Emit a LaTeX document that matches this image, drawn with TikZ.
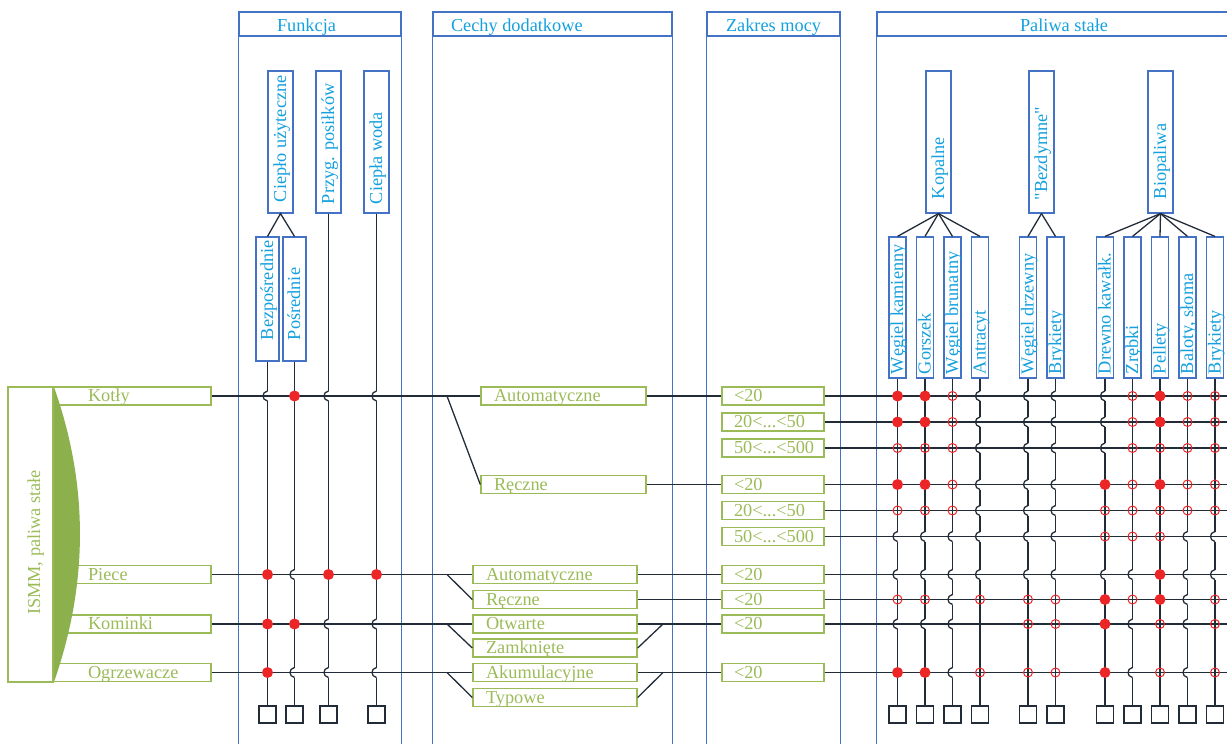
\documentclass[tikz,border=0pt]{standalone}
\usepackage{fontspec}
\setmainfont{Liberation Serif}
\usetikzlibrary{calc}

\definecolor{panelblue}{RGB}{68,114,196}
\definecolor{labelblue}{RGB}{20,160,222}
\definecolor{boxgreen}{RGB}{155,187,89}
\definecolor{lensgreen}{RGB}{140,176,76}
\definecolor{markred}{RGB}{236,38,38}
\definecolor{wiregray}{RGB}{34,44,56}

\newcommand{\lbl}[2]{\makebox[#1pt][l]{#2}}

\tikzset{
  every node/.style={font=\fontsize{18.3}{21}\selectfont, inner ysep=0pt,
    text height=12pt, text depth=1pt},
  wire/.style={draw=wiregray, line width=1.3pt},
  side/.style={draw=panelblue, line width=1.2pt},
  head/.style={side, text=labelblue, minimum height=24,
    text height=14pt, text depth=0pt},
  greenbox/.style={draw=boxgreen, line width=1.4pt, text=boxgreen, minimum height=18},
  catbox/.style={greenbox, minimum width=158, inner xsep=35},
  cechup/.style={greenbox, minimum width=165, inner xsep=13},
  cechlo/.style={greenbox, minimum width=164, inner xsep=13},
  mocbox/.style={greenbox, minimum width=102, inner xsep=12},
  vbox/.style={side, text=labelblue, rotate=90},
  vtop/.style={vbox, minimum width=142, minimum height=25},
  vmid/.style={vbox, minimum width=124, minimum height=23, inner xsep=21},
  vsub/.style={vbox, minimum width=141, minimum height=17, inner xsep=4},
  endbox/.style={draw=wiregray, line width=1.2pt, minimum size=17},
  hop/.pic={\fill[white] (-1.7,-5) rectangle (1.7,5);
    \draw[wire] (0,-5) .. controls (-6,-4) and (-6,4) .. (0,5);},
  full/.pic={\fill[markred] (0,0) circle[radius=5.5];},
  part/.pic={\draw[markred, line width=1pt] (0,0) circle[radius=4.5];}
}

\begin{document}
\begin{tikzpicture}[x=1pt,y=-1pt]
\useasboundingbox (0,0) rectangle (1227,744);
\coordinate (bot) at (0,750);
\coordinate (rend) at (1240,0);
\coordinate (jx) at (447,0);
\coordinate (mx) at (663,0);
\coordinate (sqrow) at (0,714.5);

% panels
\node[head, minimum width=162, inner xsep=38] (hfun) at (320,24) {\lbl{86}{Funkcja}};
\node[head, minimum width=239, inner xsep=18] (hcech) at (552.5,24) {\lbl{203}{Cechy dodatkowe}};
\node[head, minimum width=133, inner xsep=19] (hmoc) at (773.5,24) {\lbl{95}{Zakres mocy}};
\node[head, minimum width=374] (hpal) at (1064,24) {Paliwa stałe};
\foreach \h in {hfun,hcech,hmoc,hpal}
  \draw[side] (\h.south west) -- (\h.south west |- bot)
              (\h.south east) -- (\h.south east |- bot);

% ISMM
\node[catbox] (k1) at (132,396) {\lbl{88}{Kotły}};
\node[catbox] (k2) at (132,574.5) {\lbl{88}{Piece}};
\node[catbox] (k3) at (132,624) {\lbl{88}{Kominki}};
\node[catbox] (k4) at (132,672.5) {\lbl{88}{Ogrzewacze}};
\node[draw=boxgreen, line width=1.4pt, minimum width=45, minimum height=295] (ismm) at (30.5,534.5) {};
\fill[lensgreen] (ismm.north east) .. controls +(35,98) and +(35,-99) .. (ismm.south east) -- cycle;
\node[text=boxgreen, rotate=90] (ismmt) at (34.5,542.5) {ISMM, paliwa stałe};

% Funkcja
\node[vtop, inner xsep=11] (fu) at (280.5,142) {\lbl{120}{Ciepło użyteczne}};
\node[vmid] (fc1) at (267.5,299) {\lbl{82}{Bezpośrednie}};
\node[vmid] (fc2) at (294.5,299) {\lbl{82}{Pośrednie}};
\node[vtop, inner xsep=9] (fc3) at (328.5,142) {\lbl{124}{Przyg. posiłków}};
\node[vtop, inner xsep=9] (fc4) at (376.5,142) {\lbl{124}{Ciepła woda}};
\draw[wire] (fc1.east) -- (fu.west) -- (fc2.east);
\foreach \i in {1,...,4} {
  \node[endbox] (fe\i) at (fc\i.west |- sqrow) {};
  \draw[wire] (fc\i.west) -- (fe\i.north);
}

% Cechy dodatkowe
\node[cechup] (ca1) at (563.5,396) {\lbl{139}{Automatyczne}};
\node[cechup] (cr1) at (563.5,484.5) {\lbl{139}{Ręczne}};
\node[cechlo] (ca2) at (555,574.5) {\lbl{138}{Automatyczne}};
\node[cechlo] (cr2) at (555,599.5) {\lbl{138}{Ręczne}};
\node[cechlo] (co) at (555,624) {\lbl{138}{Otwarte}};
\node[cechlo] (cz) at (555,648) {\lbl{138}{Zamknięte}};
\node[cechlo] (cak) at (555,672.5) {\lbl{138}{Akumulacyjne}};
\node[cechlo] (ct) at (555,697.5) {\lbl{138}{Typowe}};

% Zakres mocy
\foreach \n/\y/\t in {1/396/{<20}, 2/422/{20<...<50}, 3/448/{50<...<500},
    4/484.5/{<20}, 5/510.5/{20<...<50}, 6/536.5/{50<...<500},
    7/574.5/{<20}, 8/599.5/{<20}, 9/624/{<20}, 10/672.5/{<20}}
  \node[mocbox] (z\n) at (773,\y) {\lbl{78}{\t}};

% Paliwa stale
\node[vtop, inner xsep=14] (gk) at (938.5,142) {\lbl{114}{Kopalne}};
\node[vtop, inner xsep=13] (gb) at (1041.5,142) {\lbl{116}{\textquotedbl Bezdymne\textquotedbl}};
\node[vtop, inner xsep=14] (gp) at (1160.5,142) {\lbl{114}{Biopaliwa}};
\foreach \i/\x/\t in {1/897.5/{Węgiel kamienny}, 2/925/Gorszek, 3/952.5/{Węgiel brunatny},
    4/980/Antracyt, 5/1028/{Węgiel drzewny}, 6/1055.5/Brykiety, 7/1105/{Drewno kawałk.},
    8/1132.5/Zrębki, 9/1160/Pellety, 10/1187.5/{Baloty, słoma}, 11/1215/Brykiety} {
  \node[vsub] (s\i) at (\x,307.5) {\lbl{133}{\t}};
  \node[endbox] (se\i) at (s\i.west |- sqrow) {};
  \draw[wire] (s\i.west) -- (se\i.north);
}
\foreach \i in {1,...,4} \draw[wire] (gk.west) -- (s\i.east);
\foreach \i in {5,6} \draw[wire] (gb.west) -- (s\i.east);
\foreach \i in {7,...,11} \draw[wire] (gp.west) -- (s\i.east);

% crossings: h = hop, f = full dot, o = open dot, x = plain
\def\funmarks{k1/{h,f,h,h}, k2/{f,h,f,f}, k3/{f,f,h,h}, k4/{f,h,h,h}}
\def\palmarks{z1/{f,f,o,h,h,h,h,o,f,o,o}, z2/{f,f,o,h,h,h,h,o,f,o,o},
  z3/{o,o,o,h,h,h,h,o,o,o,o}, z4/{f,f,o,h,h,h,f,o,f,o,o},
  z5/{o,o,o,h,h,h,o,o,o,o,o}, z6/{h,h,h,h,h,h,o,o,o,h,h},
  z7/{h,h,h,h,h,h,h,h,f,h,h}, z8/{o,o,h,o,o,o,f,o,f,h,o},
  z9/{h,h,h,x,o,o,f,h,o,h,o}, z10/{f,f,h,o,o,o,f,h,o,h,o}}

\foreach \r/\row in \funmarks
  \foreach \m [count=\i] in \row {\if h\m \pic at (fc\i.west |- \r.east) {hop};\fi}
\foreach \r/\row in \palmarks
  \foreach \m [count=\i] in \row {\if h\m \pic at (s\i.west |- \r.east) {hop};\fi}

% horizontal connectors
\draw[wire] (k1.east) -- (ca1.west);
\draw[wire] (jx |- k1.east) -- (cr1.west);
\draw[wire] (ca1.east) -- (z1.west);
\draw[wire] (cr1.east) -- (z4.west);
\draw[wire] (k2.east) -- (ca2.west);
\draw[wire] (jx |- k2.east) -- (cr2.west);
\draw[wire] (ca2.east) -- (z7.west);
\draw[wire] (cr2.east) -- (z8.west);
\draw[wire] (k3.east) -- (co.west);
\draw[wire] (jx |- k3.east) -- (cz.west);
\draw[wire] (co.east) -- (z9.west);
\draw[wire] (cz.east) -- (mx |- co.east);
\draw[wire] (k4.east) -- (cak.west);
\draw[wire] (jx |- k4.east) -- (ct.west);
\draw[wire] (cak.east) -- (z10.west);
\draw[wire] (ct.east) -- (mx |- cak.east);
\foreach \n in {1,...,10} \draw[wire] (z\n.east) -- (z\n.east -| rend);

% dots
\foreach \r/\row in \funmarks
  \foreach \m [count=\i] in \row {
    \if f\m \pic at (fc\i.west |- \r.east) {full};\fi
    \if o\m \pic at (fc\i.west |- \r.east) {part};\fi}
\foreach \r/\row in \palmarks
  \foreach \m [count=\i] in \row {
    \if f\m \pic at (s\i.west |- \r.east) {full};\fi
    \if o\m \pic at (s\i.west |- \r.east) {part};\fi}
\end{tikzpicture}
\end{document}
